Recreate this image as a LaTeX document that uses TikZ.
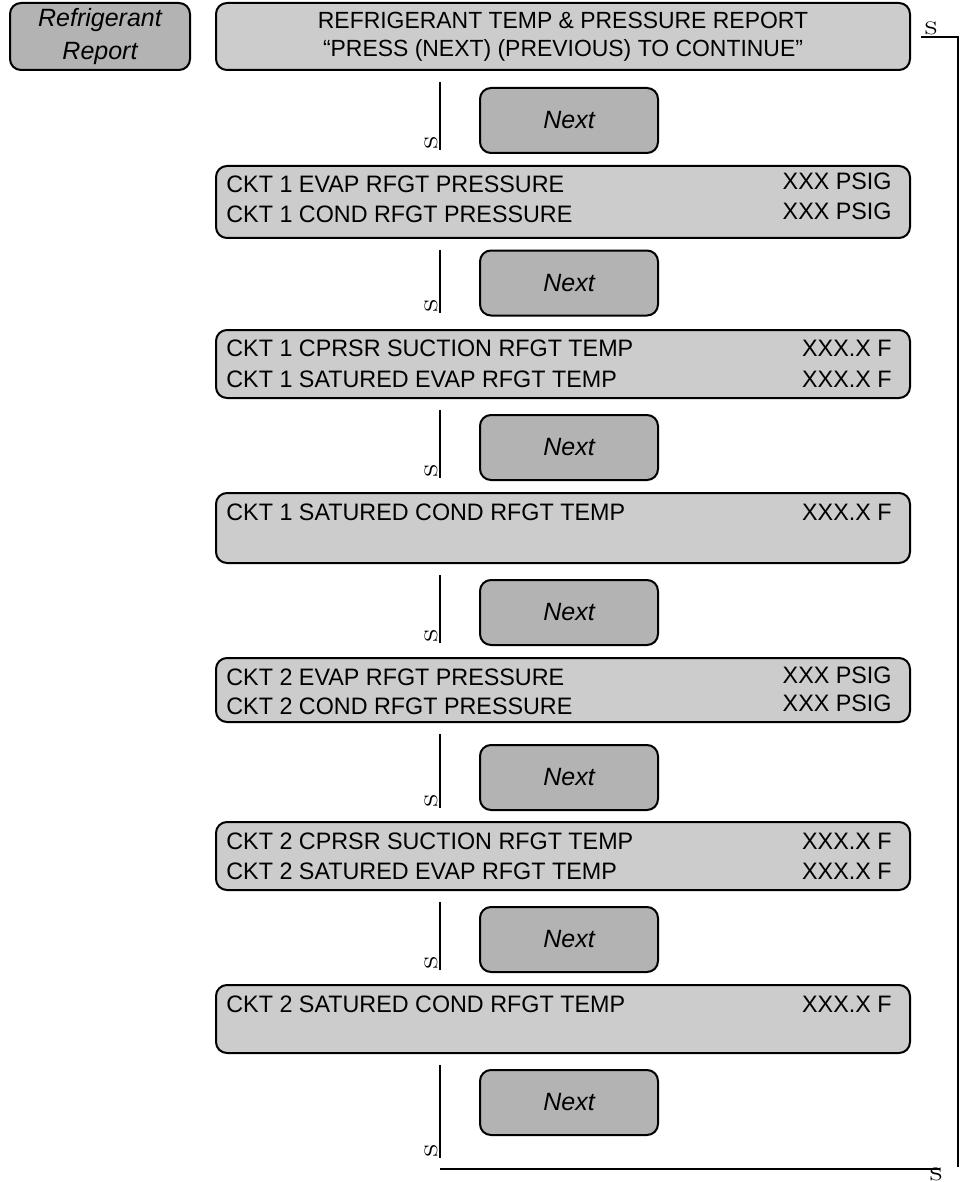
\documentclass[tikz,border=0pt]{standalone}
\usepackage{fontspec}
\newfontfamily\sansf{Liberation Sans}
\newfontfamily\condf[FakeStretch=0.98]{Liberation Sans}
\definecolor{dispgray}{RGB}{204,204,204}
\definecolor{keygray}{RGB}{179,179,179}
\begin{document}
\begin{tikzpicture}[x=0.5pt,y=-0.5pt,
  disp/.style={draw, line width=1pt, rounded corners=5.5pt, fill=dispgray, minimum width=347pt, inner sep=0pt},
  key/.style={draw, line width=1pt, rounded corners=5.5pt, fill=keygray, minimum width=89pt, minimum height=32.5pt, inner sep=0pt, font=\sansf\itshape\fontsize{12.5}{15}\selectfont},
  dtxt/.style={inner sep=0pt, font=\condf\fontsize{11.9}{14}\selectfont},
  conn/.style={line width=1pt},
  smark/.style={inner sep=0pt, font=\fontsize{9}{10}\selectfont}
]
\useasboundingbox (0,0) rectangle (966,1182);

% left label
\node[key, minimum width=90pt, minimum height=33.5pt, align=center] (rr) at (100,36.5) {Refrigerant\\[1.5pt]Report};

% display boxes
\node[disp, minimum height=33.5pt] (b1) at (563,36.5) {};
\node[disp, minimum height=36pt] (b2) at (563,202) {};
\node[disp, minimum height=34pt] (b3) at (563,364) {};
\node[disp, minimum height=35pt] (b4) at (563,528) {};
\node[disp, minimum height=32pt] (b5) at (563,690) {};
\node[disp, minimum height=34pt] (b6) at (563,856) {};
\node[disp, minimum height=34pt] (b7) at (563,1019) {};

% key boxes
\node[key] (n1) at (569,120.5) {Next};
\node[key] (n2) at (569,283) {Next};
\node[key] (n3) at (569,447.5) {Next};
\node[key] (n4) at (569,612.5) {Next};
\node[key] (n5) at (569,777.5) {Next};
\node[key] (n6) at (569,939.5) {Next};
\node[key] (n7) at (569,1102.5) {Next};

% texts
\node[dtxt, font=\condf\fontsize{11.7}{14}\selectfont] (t1a) at (563,20) {REFRIGERANT TEMP \& PRESSURE REPORT};
\node[dtxt, font=\condf\fontsize{11.7}{14}\selectfont] (t1b) at (563,50) {“PRESS (NEXT) (PREVIOUS) TO CONTINUE”};

\node[dtxt, anchor=west] (t2a) at (226,184) {CKT 1 EVAP RFGT PRESSURE};
\node[dtxt, anchor=west] (t2b) at (226,214) {CKT 1 COND RFGT PRESSURE};
\node[dtxt, anchor=east] (v2a) at (892,181) {XXX PSIG};
\node[dtxt, anchor=east] (v2b) at (892,211) {XXX PSIG};

\node[dtxt, anchor=west] (t3a) at (226,348) {CKT 1 CPRSR SUCTION RFGT TEMP};
\node[dtxt, anchor=west] (t3b) at (226,379) {CKT 1 SATURED EVAP RFGT TEMP};
\node[dtxt, anchor=east] (v3a) at (892,348) {XXX.X F};
\node[dtxt, anchor=east] (v3b) at (892,379) {XXX.X F};

\node[dtxt, anchor=west] (t4a) at (226,512) {CKT 1 SATURED COND RFGT TEMP};
\node[dtxt, anchor=east] (v4a) at (892,512) {XXX.X F};

\node[dtxt, anchor=west] (t5a) at (226,677) {CKT 2 EVAP RFGT PRESSURE};
\node[dtxt, anchor=west] (t5b) at (226,706) {CKT 2 COND RFGT PRESSURE};
\node[dtxt, anchor=east] (v5a) at (892,675) {XXX PSIG};
\node[dtxt, anchor=east] (v5b) at (892,703) {XXX PSIG};

\node[dtxt, anchor=west] (t6a) at (226,841) {CKT 2 CPRSR SUCTION RFGT TEMP};
\node[dtxt, anchor=west] (t6b) at (226,871) {CKT 2 SATURED EVAP RFGT TEMP};
\node[dtxt, anchor=east] (v6a) at (892,841) {XXX.X F};
\node[dtxt, anchor=east] (v6b) at (892,871) {XXX.X F};

\node[dtxt, anchor=west] (t7a) at (226,1004) {CKT 2 SATURED COND RFGT TEMP};
\node[dtxt, anchor=east] (v7a) at (892,1004) {XXX.X F};

% vertical step connectors with S marks
\foreach \i/\ya/\yb in {1/82/150, 2/250/313, 3/410/478, 4/575/643, 5/734/808, 6/902/970, 7/1065/1158}{
  \coordinate (s\i a) at (440,\ya);
  \coordinate (s\i b) at (440,\yb);
  \draw[conn] (s\i a) -- (s\i b);
  \node[smark, rotate=90, anchor=south west] (m\i) at (438,\yb) {\scalebox{1.3}[1]{S}};
}

% return loop
\coordinate (r0) at (921,37);
\coordinate (r1) at (958,37);
\coordinate (r2) at (958,1167);
\coordinate (r3) at (940,1169);
\coordinate (r4) at (440,1169);
\draw[conn] (r0) -- (r1) -- (r2);
\draw[conn] (r4) -- (r3);
\node[smark, anchor=south west] (mt) at (924,35) {\scalebox{1.3}[1]{S}};
\node[smark, anchor=north west] (mb) at (929,1167) {\scalebox{1.3}[1]{S}};
\end{tikzpicture}
\end{document}
